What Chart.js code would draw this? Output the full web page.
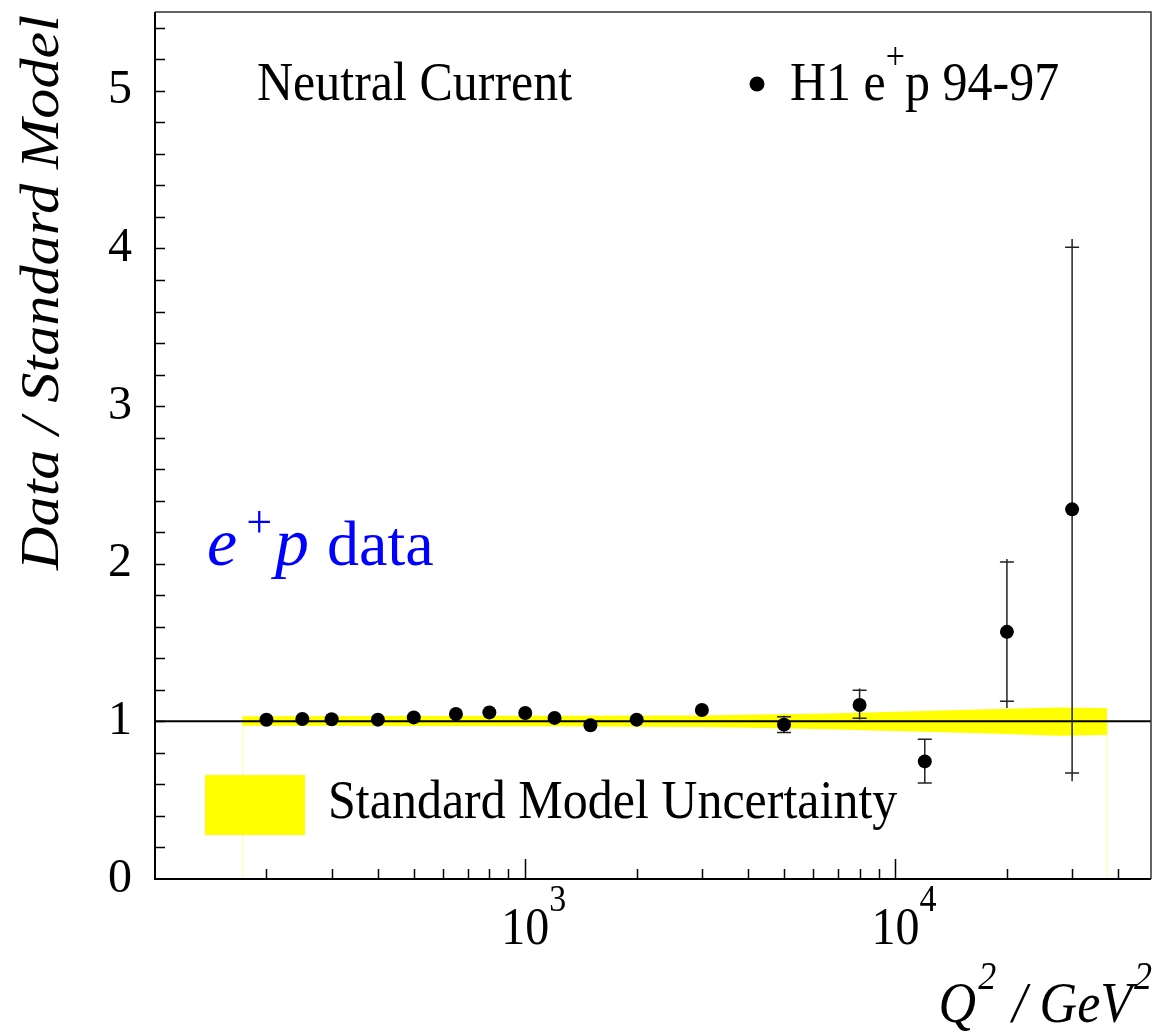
<!DOCTYPE html>
<html>
<head>
<meta charset="utf-8">
<script src="https://cdn.jsdelivr.net/npm/chart.js@4.4.1/dist/chart.umd.min.js"></script>
<style>
html, body { margin: 0; padding: 0; background: #fff; }
#wrap { width: 1158px; height: 1036px; }
</style>
</head>
<body>
<div id="wrap"><canvas id="ratio" width="1158" height="1036"></canvas></div>
<script>
// H1 e+p 94-97 neutral current, data / standard model
const q2 = [200, 250, 300, 400, 500, 650, 800, 1000, 1200, 1500, 2000, 3000, 5000, 8000, 12000, 20000, 30000];
const ratio = [1.010, 1.015, 1.013, 1.011, 1.025, 1.047, 1.057, 1.053, 1.022, 0.975, 1.011, 1.072, 0.979, 1.104, 0.746, 1.568, 2.345];

// inner ticks = statistical, full line = total (null: hidden by the marker)
const statLo = [null, null, null, null, null, null, null, null, null, null, null, null, 0.930, 1.019, 0.609, 1.127, 0.672];
const statHi = [null, null, null, null, null, null, null, null, null, null, null, null, 1.030, 1.197, 0.886, 2.011, 4.008];
const totLo = [null, null, null, null, null, null, null, null, null, null, null, null, 0.925, 1.012, 0.605, 1.085, 0.620];
const totHi = [null, null, null, null, null, null, null, null, null, null, null, null, 1.035, 1.208, 0.890, 2.030, 4.060];

// standard model uncertainty band
const bandQ2 = [172, 1060, 2950, 4300, 6600, 19000, 27500, 37300];
const bandHi = [1.032, 1.035, 1.037, 1.043, 1.050, 1.078, 1.088, 1.084];
const bandLo = [0.972, 0.969, 0.964, 0.958, 0.950, 0.921, 0.908, 0.914];

const yTicks = [0, 1, 2, 3, 4, 5];
const yTickLabels = ['0', '1', '2', '3', '4', '5'];
const xMajor = [1000, 10000];
const xMajorExp = ['3', '4'];

const SERIF = '"Liberation Serif", "Times New Roman", serif';
const YELLOW = '#ffff00';

Chart.defaults.font.family = SERIF;
Chart.defaults.color = '#000';
Chart.defaults.animation = false;
Chart.defaults.plugins.legend.display = false;
Chart.defaults.plugins.tooltip.enabled = false;

// draws text pieces one after the other, optionally stretched
function drawParts ( ctx, x, y, parts, color, sy ) {
    ctx.save();
    ctx.translate( x, y );
    ctx.scale( 1, sy || 1 );
    ctx.fillStyle = color;
    ctx.textBaseline = 'alphabetic';
    ctx.textAlign = 'left';
    let cx = 0;
    parts.forEach( p => {
        ctx.font = p.font;
        ctx.fillText( p.text, cx, p.dy || 0 );
        cx += ctx.measureText( p.text ).width + ( p.gap || 0 );
    } );
    ctx.restore();
}

function partsWidth ( ctx, parts ) {
    let w = 0;
    parts.forEach( p => {
        ctx.font = p.font;
        w += ctx.measureText( p.text ).width + ( p.gap || 0 );
    } );
    return w;
}

const decor = {
    id: 'decor',
    afterDatasetDraw ( chart, args ) {
        if ( args.index !== 1 ) return;
        const { ctx, chartArea: a, scales: { x, y } } = chart;
        ctx.save();

        // thin outline of the band down to zero
        ctx.strokeStyle = 'rgba(255,255,0,0.35)';
        ctx.lineWidth = 1;
        [ bandQ2[0], bandQ2[bandQ2.length - 1] ].forEach( v => {
            const px = Math.round( x.getPixelForValue( v ) ) + 0.5;
            ctx.beginPath();
            ctx.moveTo( px, y.getPixelForValue( 1 ) );
            ctx.lineTo( px, a.bottom );
            ctx.stroke();
        } );

        // line at ratio 1
        ctx.strokeStyle = '#000';
        ctx.lineWidth = 2;
        ctx.beginPath();
        ctx.moveTo( a.left, y.getPixelForValue( 1 ) );
        ctx.lineTo( a.right, y.getPixelForValue( 1 ) );
        ctx.stroke();

        // error bars
        ctx.strokeStyle = '#222';
        ctx.lineWidth = 1.5;
        q2.forEach( ( v, i ) => {
            if ( statLo[i] == null ) return;
            const px = x.getPixelForValue( v );
            ctx.beginPath();
            ctx.moveTo( px, y.getPixelForValue( totLo[i] ) );
            ctx.lineTo( px, y.getPixelForValue( totHi[i] ) );
            [ statLo[i], statHi[i] ].forEach( e => {
                const py = y.getPixelForValue( e );
                ctx.moveTo( px - 7, py );
                ctx.lineTo( px + 7, py );
            } );
            ctx.stroke();
        } );
        ctx.restore();
    },
    afterDraw ( chart ) {
        const { ctx, chartArea: a, scales: { x, y } } = chart;
        ctx.save();

        // frame
        ctx.strokeStyle = '#333';
        ctx.lineWidth = 1.5;
        ctx.beginPath();
        ctx.moveTo( a.left, a.top );
        ctx.lineTo( a.right, a.top );
        ctx.lineTo( a.right, a.bottom );
        ctx.stroke();
        ctx.strokeStyle = '#000';
        ctx.lineWidth = 2;
        ctx.beginPath();
        ctx.moveTo( a.left, a.top );
        ctx.lineTo( a.left, a.bottom );
        ctx.lineTo( a.right, a.bottom );
        ctx.stroke();

        // ticks
        ctx.lineWidth = 1.5;
        ctx.beginPath();
        for ( let v = 0.2; v < 5.5; v += 0.2 ) {
            const py = Math.round( y.getPixelForValue( v ) ) + 0.5;
            ctx.moveTo( a.left, py );
            ctx.lineTo( a.left + 10, py );
        }
        for ( let d = 100; d < 100000; d *= 10 ) {
            for ( let k = 1; k < 10; k++ ) {
                const v = d * k;
                if ( v <= x.min || v >= x.max ) continue;
                const px = Math.round( x.getPixelForValue( v ) ) + 0.5;
                ctx.moveTo( px, a.bottom );
                ctx.lineTo( px, a.bottom - ( k === 1 ? 20 : 10 ) );
            }
        }
        ctx.stroke();

        // tick labels
        ctx.fillStyle = '#000';
        ctx.font = '48px ' + SERIF;
        ctx.textAlign = 'right';
        ctx.textBaseline = 'middle';
        yTicks.forEach( ( v, i ) => {
            ctx.fillText( yTickLabels[i], 132, y.getPixelForValue( v ) );
        } );
        xMajor.forEach( ( v, i ) => {
            const parts = [
                { text: '10', font: '48px ' + SERIF },
                { text: xMajorExp[i], font: '34px ' + SERIF, dy: -30 }
            ];
            const px = x.getPixelForValue( v );
            ctx.font = '48px ' + SERIF;
            const w10 = ctx.measureText( '10' ).width;
            drawParts( ctx, px - w10 / 2, 944, parts, '#000', 1.1 );
        } );

        // axis titles
        const yTitle = 'Data / Standard Model';
        ctx.font = 'italic 54px ' + SERIF;
        const wy = ctx.measureText( yTitle ).width;
        ctx.save();
        ctx.translate( 58, 570 );
        ctx.rotate( -Math.PI / 2 );
        ctx.scale( 555 / wy, 1 );
        ctx.textAlign = 'left';
        ctx.textBaseline = 'alphabetic';
        ctx.fillText( yTitle, 0, 0 );
        ctx.restore();

        const xTitle = [
            { text: 'Q', font: 'italic 52px ' + SERIF, gap: 2 },
            { text: '2', font: 'italic 36px ' + SERIF, dy: -30, gap: 16 },
            { text: '/ GeV', font: 'italic 52px ' + SERIF, gap: 2 },
            { text: '2', font: 'italic 36px ' + SERIF, dy: -30 }
        ];
        drawParts( ctx, 1152 - partsWidth( ctx, xTitle ), 1022, xTitle, '#000', 1.1 );

        // legend and labels
        drawParts( ctx, 257, 100, [ { text: 'Neutral Current', font: '50px ' + SERIF } ], '#000', 1.1 );
        ctx.fillStyle = '#000';
        ctx.beginPath();
        ctx.arc( 757, 84, 7.5, 0, Math.PI * 2 );
        ctx.fill();
        drawParts( ctx, 790, 100, [
            { text: 'H1 e', font: '50px ' + SERIF },
            { text: '+', font: '34px ' + SERIF, dy: -28 },
            { text: 'p 94-97', font: '50px ' + SERIF }
        ], '#000', 1.1 );

        drawParts( ctx, 207, 565, [
            { text: 'e', font: 'italic 68px ' + SERIF, gap: 9 },
            { text: '+', font: '46px ' + SERIF, dy: -28, gap: 3 },
            { text: 'p', font: 'italic 68px ' + SERIF, gap: 2 },
            { text: ' data', font: '64px ' + SERIF }
        ], '#0000ff', 1.0 );

        ctx.fillStyle = YELLOW;
        ctx.fillRect( 205, 775, 100, 60 );
        drawParts( ctx, 328, 818, [ { text: 'Standard Model Uncertainty', font: '50px ' + SERIF } ], '#000', 1.1 );

        ctx.restore();
    }
};

new Chart( document.getElementById( 'ratio' ), {
    type: 'scatter',
    data: {
        datasets: [ {
            data: q2.map( ( v, i ) => ( { x: v, y: ratio[i] } ) ),
            pointRadius: 7,
            pointBackgroundColor: '#000',
            pointBorderWidth: 0,
            showLine: false
        }, {
            data: bandQ2.map( ( v, i ) => ( { x: v, y: bandHi[i] } ) ),
            showLine: true,
            borderWidth: 0,
            pointRadius: 0,
            tension: 0,
            fill: '+1',
            backgroundColor: YELLOW
        }, {
            data: bandQ2.map( ( v, i ) => ( { x: v, y: bandLo[i] } ) ),
            showLine: true,
            borderWidth: 0,
            pointRadius: 0,
            tension: 0,
            fill: false
        } ]
    },
    options: {
        responsive: false,
        devicePixelRatio: 1,
        layout: { padding: { left: 155, right: 4, top: 12, bottom: 157 } },
        scales: {
            x: { type: 'logarithmic', min: 100, max: 49000, display: false },
            y: { type: 'linear', min: 0, max: 5.5, display: false }
        }
    },
    plugins: [ decor ]
} );
</script>
</body>
</html>
